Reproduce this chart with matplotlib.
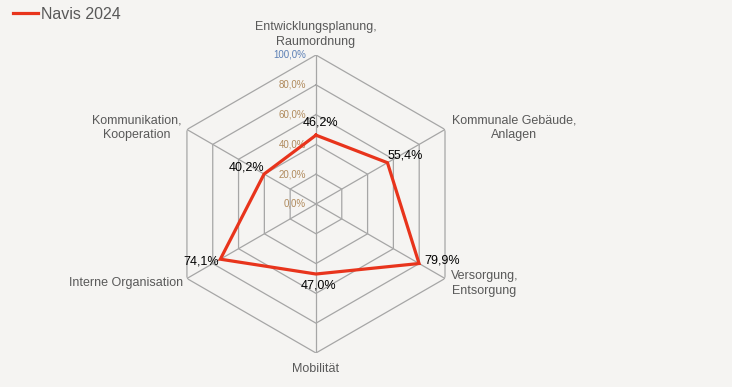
import matplotlib.pyplot as plt
import numpy as np

plt.rcParams['font.family'] = ['Liberation Sans', 'DejaVu Sans']

categories = ["Entwicklungsplanung,\nRaumordnung", "Kommunale Gebäude,\nAnlagen",
              "Versorgung,\nEntsorgung", "Mobilität", "Interne Organisation",
              "Kommunikation,\nKooperation"]
values = [46.2, 55.4, 79.9, 47.0, 74.1, 40.2]
ticks = [0, 20, 40, 60, 80, 100]
tick_labels = ["0,0%", "20,0%", "40,0%", "60,0%", "80,0%", "100,0%"]
series_name = "Navis 2024"

bg = '#f5f4f2'
red = '#e8341c'
grey = '#595959'

fig = plt.figure(figsize=(7.32, 3.87), dpi=100, facecolor=bg)
ax = fig.add_axes([0.4317 - 0.2036, 0.4729 - 0.385, 0.4071, 0.770], projection='polar')
ax.set_facecolor(bg)
ax.set_theta_zero_location('N')
ax.set_theta_direction(-1)
ax.set_ylim(0, 100)
ax.axis('off')

n = len(categories)
theta = np.arange(n) * 2 * np.pi / n
theta_closed = np.append(theta, theta[0])

# hexagon grid + spokes
for t in ticks[1:]:
    ax.plot(theta_closed, [t] * (n + 1), color='#a6a6a6', lw=0.9, zorder=1)
for th in theta:
    ax.plot([th, th], [0, 100], color='#a6a6a6', lw=0.9, zorder=1)

# tick labels along the top spoke
for t, lab in zip(ticks, tick_labels):
    col = '#5b7fb5' if t == 100 else '#b08a5c'
    ax.annotate(lab, (0, t), xytext=(-7, 0), textcoords='offset points',
                ha='right', va='center', fontsize=7, color=col, zorder=3)

vals_closed = values + [values[0]]
ax.plot(theta_closed, vals_closed, color=red, lw=2.3, zorder=4, label=series_name,
        solid_joinstyle='miter')

# data labels
offsets = [(3, 9, 'center'), (0, 5, 'left'), (4, 2, 'left'), (2, -8, 'center'),
           (-1, -2, 'right'), (0, 5, 'right')]
for th, v, (dx, dy, ha) in zip(theta, values, offsets):
    ax.annotate(f"{v:.1f}%".replace('.', ','), (th, v), xytext=(dx, dy),
                textcoords='offset points', ha=ha, va='center', fontsize=9,
                color='black', zorder=5)

# category labels
cat_pos = [(0, 5, 'center', 'bottom'), (5, 1, 'left', 'center'),
           (4, -3.5, 'left', 'center'), (0, -7.5, 'center', 'top'),
           (-3, -3.5, 'right', 'center'), (-4, 1.5, 'right', 'center')]
for th, lab, (dx, dy, ha, va) in zip(theta, categories, cat_pos):
    ax.annotate(lab, (th, 100), xytext=(dx, dy), textcoords='offset points',
                ha=ha, va=va, fontsize=9, color=grey, multialignment='center',
                linespacing=1.3, annotation_clip=False)

fig.legend(loc='upper left', bbox_to_anchor=(0.002, 1.012), frameon=False, fontsize=11.5,
           handlelength=1.6, handletextpad=0.15, labelcolor=grey, borderaxespad=0.3)

fig.savefig('out.png', dpi=100, facecolor=bg)
